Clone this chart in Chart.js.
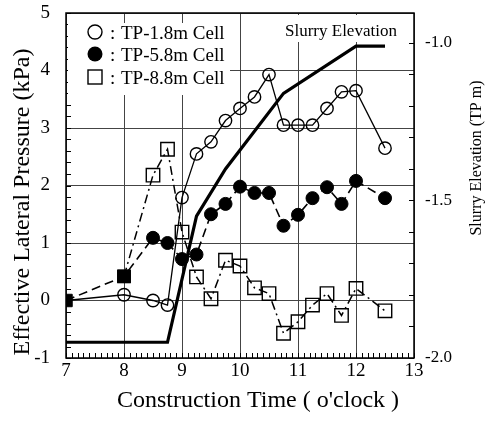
<!DOCTYPE html>
<html>
<head>
<meta charset="utf-8">
<script src="https://cdn.jsdelivr.net/npm/chart.js@4/dist/chart.umd.min.js"></script>
<style>
  body { margin: 0; background: #fff; }
  canvas { display: block; }
</style>
</head>
<body>
<canvas id="chart" width="486" height="425"></canvas>
<script>
// construction time (o'clock) and effective lateral pressure (kPa)
const timeTP18 = [7, 8, 8.5, 8.75, 9, 9.25, 9.5, 9.75, 10, 10.25, 10.5, 10.75, 11, 11.25, 11.5, 11.75, 12, 12.5];
const pressTP18 = [0, 0.1, 0.0, -0.08, 1.79, 2.55, 2.76, 3.13, 3.34, 3.54, 3.93, 3.05, 3.05, 3.05, 3.34, 3.63, 3.65, 2.65];

const timeTP58 = [7, 8, 8.5, 8.75, 9, 9.25, 9.5, 9.75, 10, 10.25, 10.5, 10.75, 11, 11.25, 11.5, 11.75, 12, 12.5];
const pressTP58 = [0, 0.42, 1.09, 1.0, 0.72, 0.8, 1.5, 1.68, 1.98, 1.87, 1.87, 1.3, 1.49, 1.78, 1.97, 1.68, 2.08, 1.78];

const timeTP88 = [8, 8.5, 8.75, 9, 9.25, 9.5, 9.75, 10, 10.25, 10.5, 10.75, 11, 11.25, 11.5, 11.75, 12, 12.5];
const pressTP88 = [0.42, 2.18, 2.63, 1.19, 0.41, 0.03, 0.70, 0.60, 0.22, 0.12, -0.57, -0.37, -0.08, 0.12, -0.26, 0.21, -0.18];

// slurry elevation (TP m), right axis
const slurryTime = [7, 8.75, 9.25, 9.75, 10.75, 12, 12.5];
const slurryElev = [-1.95, -1.95, -1.55, -1.40, -1.16, -1.01, -1.01];

const legendLabels = ['TP-1.8m Cell', 'TP-5.8m Cell', 'TP-8.8m Cell'];
const rightTicks = [-2.0, -1.5, -1.0];

const FONT = '"Liberation Serif", "Times New Roman", serif';

function pts(xs, ys) {
  return xs.map((x, i) => ({ x: x, y: ys[i] }));
}

// white boxes, legend, label, minor ticks, frame and axis titles
const decor = {
  id: 'decor',
  beforeDatasetsDraw(chart) {
    const ctx = chart.ctx;
    const a = chart.chartArea;
    const sx = chart.scales.x, sy = chart.scales.y, sy2 = chart.scales.y2;
    ctx.save();

    // minor ticks
    ctx.strokeStyle = '#000';
    ctx.lineWidth = 1;
    ctx.beginPath();
    for (let i = 0; i <= 60; i++) {
      const px = Math.round(sx.getPixelForValue(7 + i / 10)) + 0.5;
      ctx.moveTo(px, a.bottom);
      ctx.lineTo(px, a.bottom - 5);
    }
    for (let i = 0; i <= 30; i++) {
      const py = Math.round(sy.getPixelForValue(-1 + i * 0.2)) + 0.5;
      ctx.moveTo(a.left, py);
      ctx.lineTo(a.left + 5, py);
    }
    for (let i = 0; i <= 10; i++) {
      const py = Math.round(sy2.getPixelForValue(-2 + i * 0.1)) + 0.5;
      ctx.moveTo(a.right, py);
      ctx.lineTo(a.right - 5, py);
    }
    ctx.stroke();

    // legend box
    ctx.fillStyle = '#fff';
    ctx.fillRect(a.left + 2, 23, 162, 72);
    ctx.fillRect(280, 15, 122, 27);

    const rows = [32, 54, 77];
    const mx = 95;
    ctx.lineWidth = 1.4;
    ctx.strokeStyle = '#000';
    ctx.fillStyle = '#000';
    // open circle
    ctx.beginPath();
    ctx.arc(mx, rows[0], 7, 0, Math.PI * 2);
    ctx.stroke();
    // filled circle
    ctx.beginPath();
    ctx.arc(mx, rows[1], 7.5, 0, Math.PI * 2);
    ctx.fill();
    // open square
    ctx.strokeRect(mx - 7, rows[2] - 7, 14, 14);

    ctx.font = '19px ' + FONT;
    ctx.textBaseline = 'alphabetic';
    ctx.textAlign = 'left';
    legendLabels.forEach((t, i) => {
      ctx.fillText(':', 110, rows[i] + 6.5);
      ctx.fillText(t, 121, rows[i] + 6.5);
    });

    ctx.font = '17px ' + FONT;
    ctx.fillText('Slurry Elevation', 285, 36);

    // frame
    ctx.lineWidth = 1.5;
    ctx.strokeRect(a.left, a.top, a.right - a.left, a.bottom - a.top);

    // axis titles
    ctx.font = '24px ' + FONT;
    ctx.textAlign = 'center';
    ctx.fillText("Construction Time ( o'clock )", 258, 407);

    ctx.save();
    ctx.translate(29, 202);
    ctx.rotate(-Math.PI / 2);
    ctx.fillText('Effective Lateral Pressure (kPa)', 0, 0);
    ctx.restore();

    ctx.save();
    ctx.translate(481, 158);
    ctx.rotate(-Math.PI / 2);
    ctx.font = '16px ' + FONT;
    ctx.fillText('Slurry Elevation (TP m)', 0, 0);
    ctx.restore();

    ctx.restore();
  }
};

const tickFont = { family: FONT, size: 19 };

new Chart(document.getElementById('chart'), {
  type: 'line',
  data: {
    datasets: [
      {
        label: legendLabels[1],
        data: pts(timeTP58, pressTP58),
        borderColor: '#000',
        borderWidth: 1.6,
        borderDash: [9, 5],
        backgroundColor: '#000',
        pointBackgroundColor: '#000',
        pointBorderColor: '#000',
        pointStyle: timeTP58.map((t, i) => i < 2 ? 'rect' : 'circle'),
        pointRadius: timeTP58.map((t, i) => i < 2 ? 8.8 : 6.5),
        pointBorderWidth: 1,
        yAxisID: 'y'
      },
      {
        label: legendLabels[0],
        data: pts(timeTP18, pressTP18),
        borderColor: '#000',
        borderWidth: 1.3,
        pointBackgroundColor: 'rgba(0,0,0,0)',
        pointBorderColor: '#000',
        pointStyle: 'circle',
        pointRadius: timeTP18.map((t, i) => i === 0 ? 0 : 6.2),
        pointBorderWidth: 1.4,
        yAxisID: 'y'
      },
      {
        label: legendLabels[2],
        data: pts(timeTP88, pressTP88),
        borderColor: '#000',
        borderWidth: 1.5,
        borderDash: [9, 4, 2, 4],
        pointBackgroundColor: timeTP88.map((t, i) => i === 0 ? '#000' : 'rgba(0,0,0,0)'),
        pointBorderColor: '#000',
        pointStyle: 'rect',
        pointRadius: timeTP88.map((t, i) => i === 0 ? 8.8 : 9.5),
        pointBorderWidth: 1.4,
        yAxisID: 'y'
      },
      {
        label: 'Slurry Elevation',
        data: pts(slurryTime, slurryElev),
        borderColor: '#000',
        borderWidth: 3.2,
        pointRadius: 0,
        yAxisID: 'y2'
      }
    ]
  },
  options: {
    responsive: false,
    animation: false,
    layout: { padding: { top: 13, left: 0, right: 0, bottom: 0 } },
    plugins: { legend: { display: false }, tooltip: { enabled: false } },
    elements: { line: { tension: 0 } },
    scales: {
      x: {
        type: 'linear',
        min: 7, max: 13,
        ticks: { stepSize: 1, color: '#000', font: tickFont, padding: 2, maxRotation: 0 },
        grid: { color: '#444', lineWidth: 1, drawTicks: false },
        border: { display: false },
        afterFit(s) { s.height = 67; s.paddingLeft = 0; s.paddingRight = 0; }
      },
      y: {
        min: -1, max: 5,
        ticks: { stepSize: 1, color: '#000', font: tickFont, padding: 16 },
        grid: { color: '#444', lineWidth: 1, drawTicks: false },
        border: { display: false },
        afterFit(s) { s.width = 66; s.paddingTop = 0; s.paddingBottom = 0; }
      },
      y2: {
        position: 'right',
        min: -2.0, max: -0.905,
        afterBuildTicks(s) { s.ticks = rightTicks.map(v => ({ value: v })); },
        ticks: { color: '#000', font: { family: FONT, size: 17 }, padding: 11,
                 callback: v => v.toFixed(1) },
        grid: { drawOnChartArea: false, drawTicks: false },
        border: { display: false },
        afterFit(s) { s.width = 72; s.paddingTop = 0; s.paddingBottom = 0; }
      }
    }
  },
  plugins: [decor]
});
</script>
</body>
</html>
